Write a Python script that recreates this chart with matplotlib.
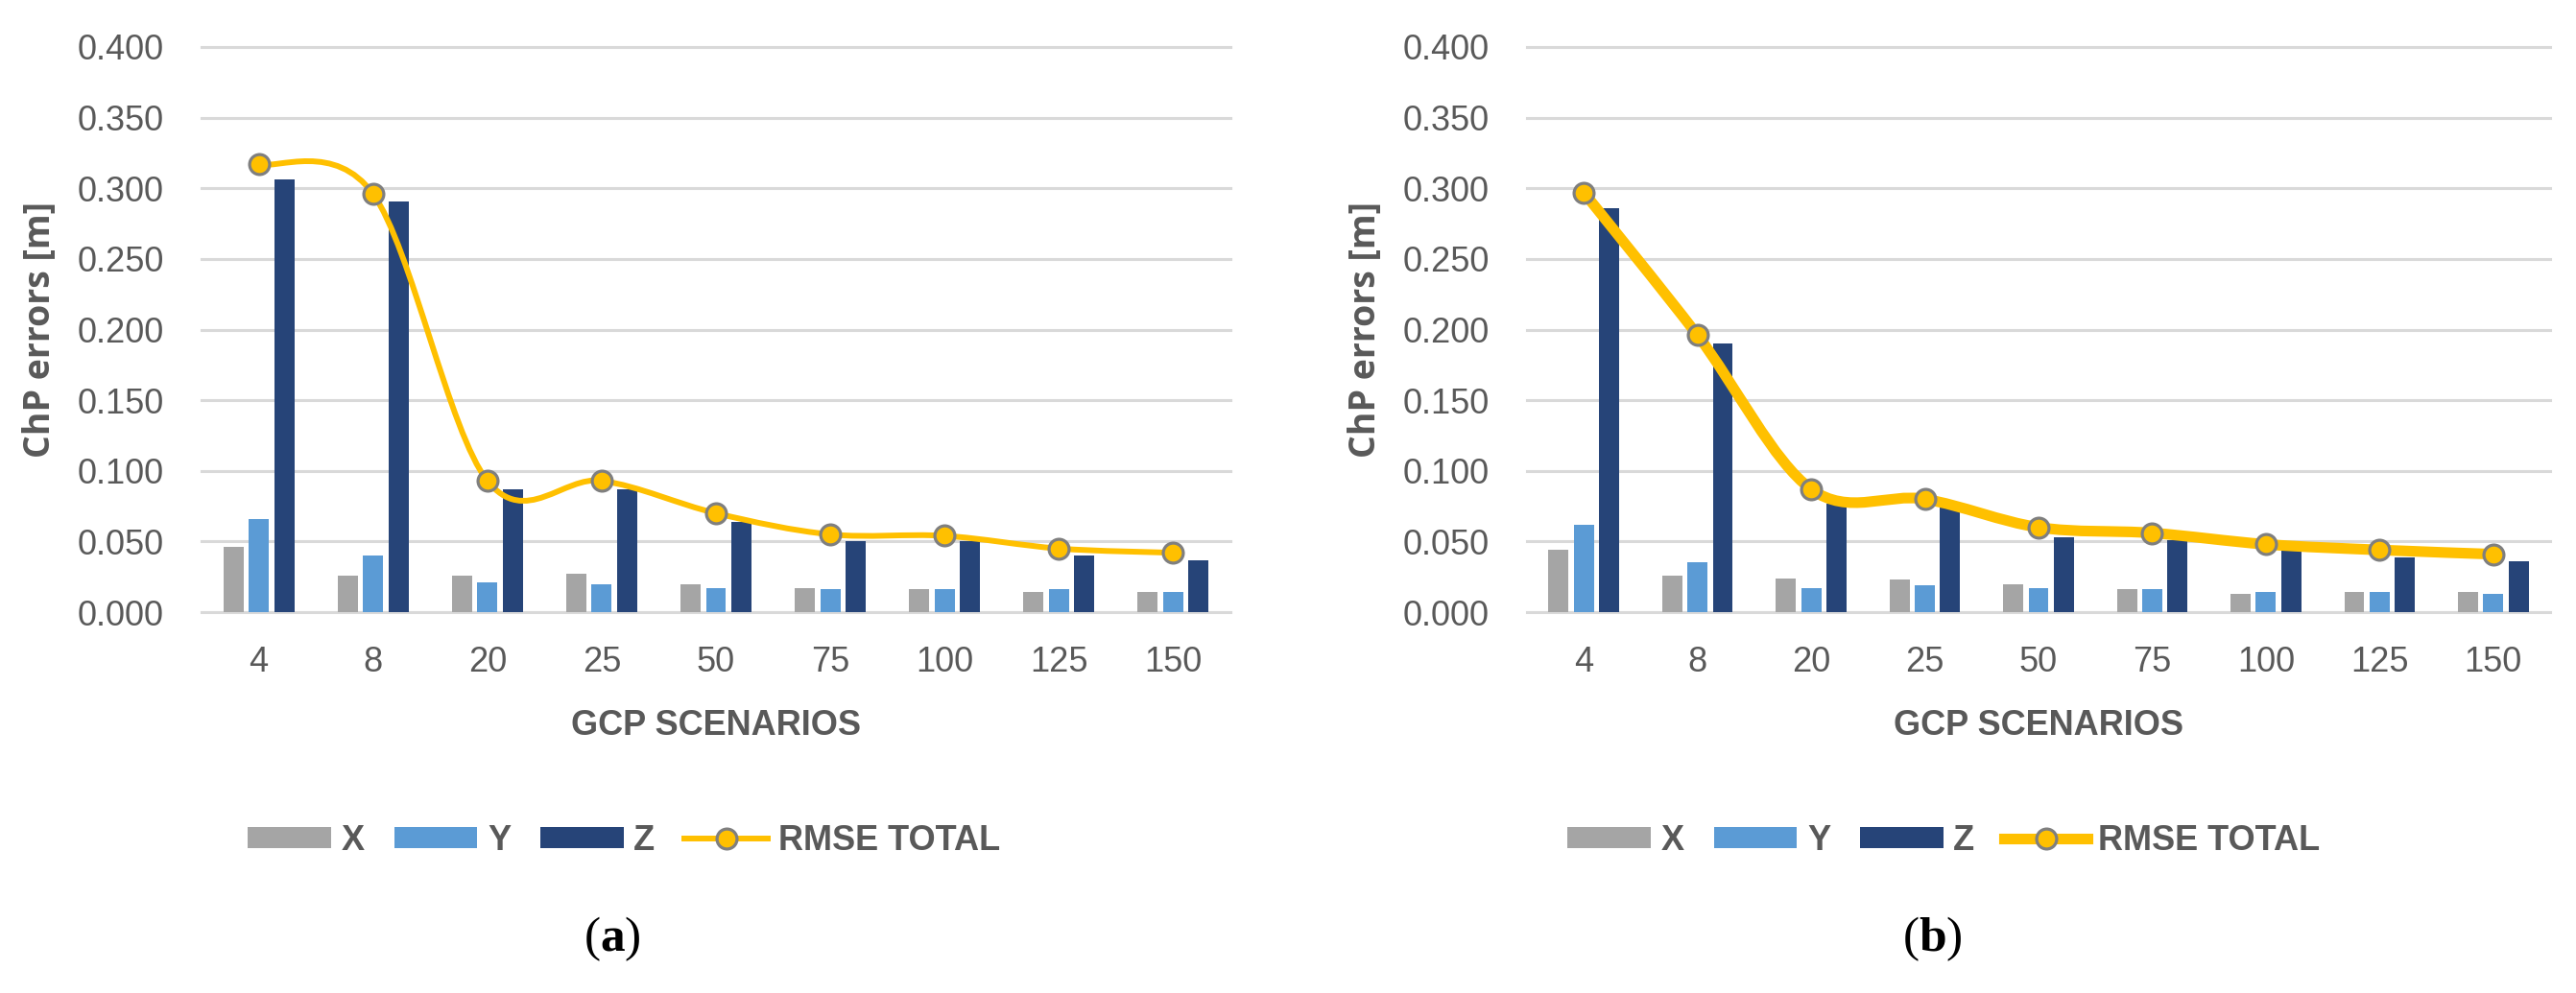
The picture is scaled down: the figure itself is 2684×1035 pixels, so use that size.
import numpy as np
import matplotlib
matplotlib.use("Agg")
import matplotlib.pyplot as plt
from matplotlib.path import Path
from matplotlib.patches import PathPatch
from matplotlib.lines import Line2D

# ---------------- data ----------------
categories = ["4", "8", "20", "25", "50", "75", "100", "125", "150"]

a_x = [0.046, 0.026, 0.026, 0.027, 0.020, 0.017, 0.016, 0.014, 0.014]
a_y = [0.066, 0.040, 0.021, 0.020, 0.017, 0.016, 0.016, 0.016, 0.014]
a_z = [0.306, 0.291, 0.087, 0.087, 0.064, 0.050, 0.050, 0.040, 0.037]
a_rmse = [0.317, 0.296, 0.093, 0.093, 0.070, 0.055, 0.054, 0.045, 0.042]

b_x = [0.044, 0.026, 0.024, 0.023, 0.020, 0.016, 0.013, 0.014, 0.014]
b_y = [0.062, 0.035, 0.017, 0.019, 0.017, 0.016, 0.014, 0.014, 0.013]
b_z = [0.286, 0.190, 0.077, 0.074, 0.053, 0.051, 0.044, 0.039, 0.036]
b_rmse = [0.297, 0.196, 0.087, 0.080, 0.060, 0.056, 0.048, 0.044, 0.041]

y_ticks = [0.0, 0.05, 0.10, 0.15, 0.20, 0.25, 0.30, 0.35, 0.40]
series_names = ["X", "Y", "Z", "RMSE TOTAL"]

# ---------------- style ----------------
C_X = "#A5A5A5"
C_Y = "#5B9BD5"
C_Z = "#264478"
C_R = "#FFC000"
C_EDGE = "#7F7F7F"
C_GRID = "#D9D9D9"
C_TXT = "#595959"

plt.rcParams["font.family"] = ["Liberation Sans", "DejaVu Sans"]
plt.rcParams["mathtext.fontset"] = "custom"
plt.rcParams["mathtext.rm"] = "Liberation Serif"
plt.rcParams["mathtext.bf"] = "Liberation Serif:bold"

W, H = 2684, 1035
fig = plt.figure(figsize=(W / 100, H / 100), dpi=100)


def smooth_path(xs, ys):
    """Excel-like smoothed line: Catmull-Rom converted to cubic Bezier."""
    pts = np.column_stack([xs, ys]).astype(float)
    n = len(pts)
    verts = [tuple(pts[0])]
    codes = [Path.MOVETO]
    for i in range(n - 1):
        p0 = pts[i - 1] if i > 0 else pts[i]
        p1 = pts[i]
        p2 = pts[i + 1]
        p3 = pts[i + 2] if i + 2 < n else pts[i + 1]
        c1 = p1 + (p2 - p0) / 6.0
        c2 = p2 - (p3 - p1) / 6.0
        verts += [tuple(c1), tuple(c2), tuple(p2)]
        codes += [Path.CURVE4] * 3
    return Path(verts, codes)


def panel(left_px, right_px, xv, yv, zv, rv, line_w, ylabel_x_px, legend_cx, tag):
    top_px, bot_px = 49, 638
    ax = fig.add_axes([left_px / W, 1 - bot_px / H,
                       (right_px - left_px) / W, (bot_px - top_px) / H])
    pos = np.arange(len(categories))
    bw = 0.176
    step = 0.2225
    bx = ax.bar(pos - step, xv, bw, color=C_X, zorder=2, label=series_names[0])
    by = ax.bar(pos, yv, bw, color=C_Y, zorder=2, label=series_names[1])
    bz = ax.bar(pos + step, zv, bw, color=C_Z, zorder=2, label=series_names[2])

    path = smooth_path(pos, rv)
    patch = PathPatch(path, facecolor="none", edgecolor=C_R, lw=line_w,
                      zorder=3, capstyle="round", joinstyle="round")
    ax.add_patch(patch)
    ax.plot(pos, rv, linestyle="none", marker="o", markersize=15,
            markerfacecolor=C_R, markeredgecolor=C_EDGE, markeredgewidth=2.3,
            zorder=4)

    ax.set_xlim(-0.5, len(categories) - 0.5)
    ax.set_ylim(0, 0.4)
    ax.set_yticks(y_ticks)
    ax.set_yticklabels([f"{v:.3f}" for v in y_ticks])
    ax.set_xticks(pos)
    ax.set_xticklabels(categories)
    for s in ax.spines.values():
        s.set_visible(False)
    ax.yaxis.grid(True, color=C_GRID, lw=2.2)
    ax.set_axisbelow(True)
    for gl in ax.get_ygridlines():
        gl.set_clip_on(False)
    ax.tick_params(axis="both", length=0, labelsize=26, colors=C_TXT)
    ax.tick_params(axis="y", pad=28)
    ax.tick_params(axis="x", pad=25)

    axw = right_px - left_px
    axh = bot_px - top_px
    ax.set_ylabel("ChP errors [m]", family=["Open Sans", "DejaVu Sans"],
                  fontweight="bold", fontsize=27, color=C_TXT, va="center")
    ax.yaxis.set_label_coords((ylabel_x_px - left_px) / axw, 0.5)
    ax.set_xlabel("GCP SCENARIOS", fontweight="bold", fontsize=26,
                  color=C_TXT, va="center")
    ax.xaxis.set_label_coords(((left_px + right_px) / 2 - left_px) / axw,
                              (bot_px - 757) / axh)

    lh = Line2D([], [], color=C_R, lw=line_w, marker="o", markersize=15,
                markerfacecolor=C_R, markeredgecolor=C_EDGE,
                markeredgewidth=2.3)
    fig.legend([bx, by, bz, lh], series_names, loc="center",
               bbox_to_anchor=(legend_cx / W, 1 - 876 / H), ncol=4,
               frameon=False, prop={"weight": "bold", "size": 26},
               labelcolor=C_TXT, handlelength=2.4, handleheight=0.58,
               handletextpad=0.3, columnspacing=0.85)

    fig.text(legend_cx / W - 0.0045, 1 - 979 / H, r"($\mathbf{" + tag + r"}$)",
             family="Liberation Serif", fontsize=37, ha="center", va="center",
             color="black")
    return ax


panel(210, 1282, a_x, a_y, a_z, a_rmse, 4.3, 42, 650, "a")
panel(1591, 2657, b_x, b_y, b_z, b_rmse, 8.0, 1423, 2025, "b")

fig.savefig("out.png", dpi=100, facecolor="white")
